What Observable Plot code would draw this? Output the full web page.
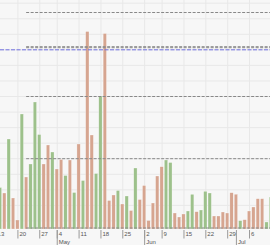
<!DOCTYPE html>
<html><head><meta charset="utf-8">
<script src="https://cdn.jsdelivr.net/npm/d3@7"></script>
<script src="https://cdn.jsdelivr.net/npm/@observablehq/plot@0.6"></script>
<style>html,body{margin:0;padding:0;background:#f7f7f7;overflow:hidden;width:270px;height:245px}</style>
</head><body><div id="chart"></div>
<script>
// Daily volume (arbitrary units), one entry per trading day
const volumes = [41.5, 36, 90, 31, 9, 115, 52, 65, 127, 94.5,
  65, 84, 77, 60, 69.5, 53.5, 69, 36.5, 85, 48.5,
  197.5, 94, 55.5, 133, 195.5, 28.5, 34, 38.5, 25, 33,
  18.5, 61, 29.5, 43.5, 8.5, 26, 53, 62.3, 69, 66.5,
  16, 12, 15, 18, 34.7, 17.3, 19, 37.7, 36, 13,
  13, 17, 16, 36.3, 34.8, 8.3, 9.3, 18, 22, 30.3,
  30.3, 7, 32];
// Day direction: up (green) / down (red)
const moves = ["up","down","up","down","down","up","down","up","up","up",
  "down","down","up","down","down","up","down","up","down","up",
  "down","down","up","up","down","down","down","up","down","up",
  "down","up","down","down","down","down","down","down","up","up",
  "down","down","down","up","up","down","up","up","up","down",
  "down","down","down","down","down","up","down","down","down","down",
  "down","up","up"];
const dayTickIndex = [-1, 4, 9, 13, 18, 23, 28, 33, 37, 42, 47, 52, 57];
const dayTickLabels = ["13","20","27","4","11","18","25","2","9","15","22","29","6"];
const monthTickIndex = [13, 33, 54];
const monthTickLabels = ["May","Jun","Jul"];
// Reference levels (dashed gray) and last value (dashed blue)
const levelValues = [217, 182.8, 181.8, 133, 70.8, 1.5];
const levelStartIndex = 6;
const lastLevel = [179.7];
const gridValues = [226.3, 210.75, 195.2, 179.65, 164.1, 148.55, 133, 117.45, 101.9, 86.35, 70.8, 55.25, 39.7, 24.15, 8.6];

const bars = volumes.map((v, i) => ({i, v, move: moves[i]}));
const lastIndex = volumes.length;
const dayTicks = dayTickIndex.map((i, j) => ({i, label: dayTickLabels[j]}));
const monthTicks = monthTickIndex.map((i, j) => ({i, label: monthTickLabels[j]}));

const chart = Plot.plot({
  width: 270, height: 245,
  marginTop: 0, marginRight: 0, marginBottom: 16, marginLeft: 0,
  style: {background: "#f7f7f7", fontFamily: "Liberation Sans, Arial, sans-serif", fontSize: "6px", overflow: "hidden"},
  x: {type: "linear", domain: [0.016, 61.8], axis: null},
  y: {domain: [0, 229], axis: null},
  color: {domain: ["up", "down"], range: ["#9dc18b", "#d6a590"]},
  marks: [
    Plot.ruleY(gridValues, {stroke: "#e8e8e8"}),
    Plot.ruleX(dayTicks.filter(d => d.i >= 0), {x: "i", stroke: "#e8e8e8"}),
    Plot.rect(bars, {x1: d => d.i - 0.38, x2: d => d.i + 0.38, y1: () => 0, y2: "v", fill: "move", stroke: "#ffffff", strokeWidth: 0.4, strokeOpacity: 0.7}),
    Plot.ruleY(levelValues, {x1: () => levelStartIndex, x2: () => lastIndex, stroke: "#888888", strokeDasharray: "3,1.5"}),
    Plot.ruleY(lastLevel, {stroke: "#6f6fe0", strokeDasharray: "4,1.5"}),
    Plot.ruleX(dayTicks, {x: "i", y1: () => -1, y2: () => -9.5, stroke: "#9a9a9a"}),
    Plot.ruleX(monthTicks, {x: "i", y1: () => -1, y2: () => -16, stroke: "#9a9a9a"}),
    Plot.text(dayTicks, {x: "i", y: () => -5, text: "label", textAnchor: "start", dx: 1.5, fill: "#555555"}),
    Plot.text(monthTicks, {x: "i", y: () => -13, text: "label", textAnchor: "start", dx: 1.5, fill: "#555555"})
  ]
});
document.getElementById("chart").appendChild(chart);
</script>
</body></html>
